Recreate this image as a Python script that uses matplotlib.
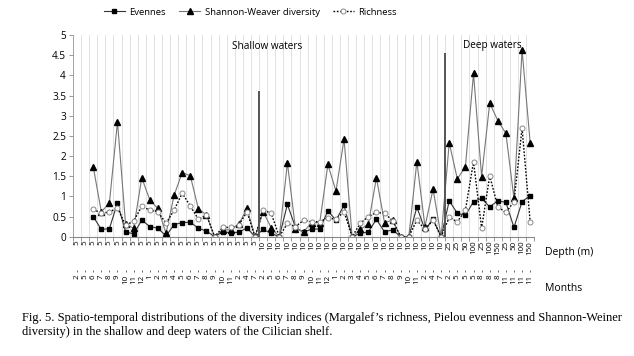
import numpy as np
import matplotlib.pyplot as plt

nan = np.nan

# category labels (depth in m, month)
depths = ["5"] * 23 + ["10"] * 23 + ["25", "25", "50", "100", "25", "100", "150", "25", "50", "100", "150"]
months = ["2", "5", "6", "7", "8", "9", "10", "11", "12", "1", "2", "3", "4", "5", "6", "7", "8", "9", "10", "11", "2", "4", "7",
          "2", "5", "6", "7", "8", "9", "10", "11", "12", "1", "2", "3", "4", "5", "6", "7", "8", "9", "10", "11", "2", "4", "7",
          "2", "5", "5", "5", "8", "8", "8", "11", "11", "11", "11"]

evennes = [nan, nan, 0.50, 0.18, 0.20, 0.84, 0.12, 0.07, 0.41, 0.25, 0.21, 0.02, 0.30, 0.35, 0.36, 0.21, 0.14, 0.0,
           0.12, 0.10, 0.11, 0.22, 0.0,
           0.18, 0.08, 0.0, 0.80, 0.23, 0.11, 0.19, 0.19, 0.64, 0.41, 0.78, 0.0, 0.08, 0.12, 0.43, 0.12, 0.17,
           0.0, 0.0, 0.73, 0.18, 0.43, 0.0,
           0.89, 0.58, 0.53, 0.87, 0.95, 0.74, 0.89, 0.85, 0.23, 0.87, 1.02]
shannon = [nan, nan, 1.74, 0.62, 0.83, 2.85, 0.31, 0.21, 1.46, 0.91, 0.70, 0.08, 1.03, 1.59, 1.51, 0.69, 0.54, 0.0,
           0.17, 0.17, 0.31, 0.70, 0.0,
           0.62, 0.22, 0.0, 1.83, 0.20, 0.12, 0.35, 0.35, 1.79, 1.13, 2.42, 0.0, 0.18, 0.31, 1.46, 0.35, 0.41,
           0.0, 0.0, 1.86, 0.25, 1.18, 0.0,
           2.33, 1.43, 1.74, 4.05, 1.49, 3.31, 2.88, 2.56, 0.95, 4.63, 2.33]
richness = [nan, nan, 0.68, 0.58, 0.61, 0.72, 0.28, 0.39, 0.75, 0.66, 0.62, 0.33, 0.66, 1.08, 0.76, 0.43, 0.54, 0.0,
            0.23, 0.23, 0.29, 0.62, 0.0,
            0.66, 0.58, 0.0, 0.33, 0.25, 0.41, 0.37, 0.37, 0.47, 0.43, 0.62, 0.0, 0.33, 0.50, 0.60, 0.58, 0.40,
            0.0, 0.0, 0.41, 0.18, 0.41, 0.0,
            0.48, 0.37, 0.66, 1.86, 0.21, 1.51, 0.74, 0.60, 0.87, 2.69, 0.37]

x = np.arange(len(depths))

plt.rcParams['font.family'] = ['Open Sans', 'DejaVu Sans']

fig = plt.figure(figsize=(6.34, 3.56), dpi=100)
ax = fig.add_axes([0.1151, 0.3351, 0.7275, 0.5666])

ax.plot(x, evennes, color="#333333", lw=0.8, marker="s", ms=3.4, mfc="black", mec="black", label="Evennes")
ax.plot(x, shannon, color="#777777", lw=0.8, marker="^", ms=3.8, mfc="black", mec="black",
        label="Shannon-Weaver diversity")
ax.plot(x, richness, color="black", lw=1.0, ls=(0, (1.2, 1.2)), marker="o", ms=3.6, mfc="white",
        mec="#888888", mew=0.7, label="Richness")

# separators between the sampling groups
ax.vlines(22.5, 0, 3.6, color="#555555", lw=1.4)
ax.vlines(45.5, 0, 4.55, color="#555555", lw=1.4)
ax.text(23.5, 4.72, "Shallow waters", ha="center", va="center", fontsize=7.2)
ax.text(51.3, 4.74, "Deep waters", ha="center", va="center", fontsize=7.2)

ax.set_xlim(-0.5, len(x) - 0.5)
ax.set_ylim(0, 5)
ax.set_yticks(np.arange(0, 5.01, 0.5))
ax.set_yticklabels(["0", "0.5", "1", "1.5", "2", "2.5", "3", "3.5", "4", "4.5", "5"])
ax.set_xticks(x)
ax.set_xticklabels(depths, rotation=90, fontsize=5.8)
ax.set_xticks(np.arange(-0.5, len(x), 1), minor=True)
ax.tick_params(axis="x", which="major", length=0, pad=3)
ax.tick_params(axis="x", which="minor", length=3, color="#888888", width=0.6)
ax.tick_params(axis="y", labelsize=7.2, length=3, color="#888888", width=0.6, pad=2)
ax.grid(axis="x", which="minor", color="#dddddd", lw=0.6)

for side in ["top", "right"]:
    ax.spines[side].set_visible(False)
ax.spines["left"].set_color("#999999")
ax.spines["left"].set_linewidth(0.6)
ax.spines["bottom"].set_color("#888888")
ax.spines["bottom"].set_linewidth(0.8)

# second row of labels: months
sec = ax.secondary_xaxis(-0.165)
sec.set_xticks(x)
sec.set_xticklabels(months, rotation=90, fontsize=5.8)
sec.tick_params(length=1.5, width=0.6, color="#555555", pad=2)
sec.spines["bottom"].set_visible(False)

fig.text(0.86, 0.292, "Depth (m)", fontsize=7.5, va="center")
fig.text(0.86, 0.19, "Months", fontsize=7.5, va="center")

fig.legend(loc="center", bbox_to_anchor=(0.395, 0.966), ncol=3, frameon=False, fontsize=6.8,
           handlelength=2.2, columnspacing=1.4, handletextpad=0.5)

fig.text(22 / 634, 0.107, "Fig. 5. Spatio-temporal distributions of the diversity indices (Margalef\u2019s richness, "
         "Pielou evenness and Shannon-Weiner", family="Liberation Serif", fontsize=9.0, va="center")
fig.text(22 / 634, 0.067, "diversity) in the shallow and deep waters of the Cilician shelf.",
         family="Liberation Serif", fontsize=9.0, va="center")

fig.savefig("out.png", dpi=100)
